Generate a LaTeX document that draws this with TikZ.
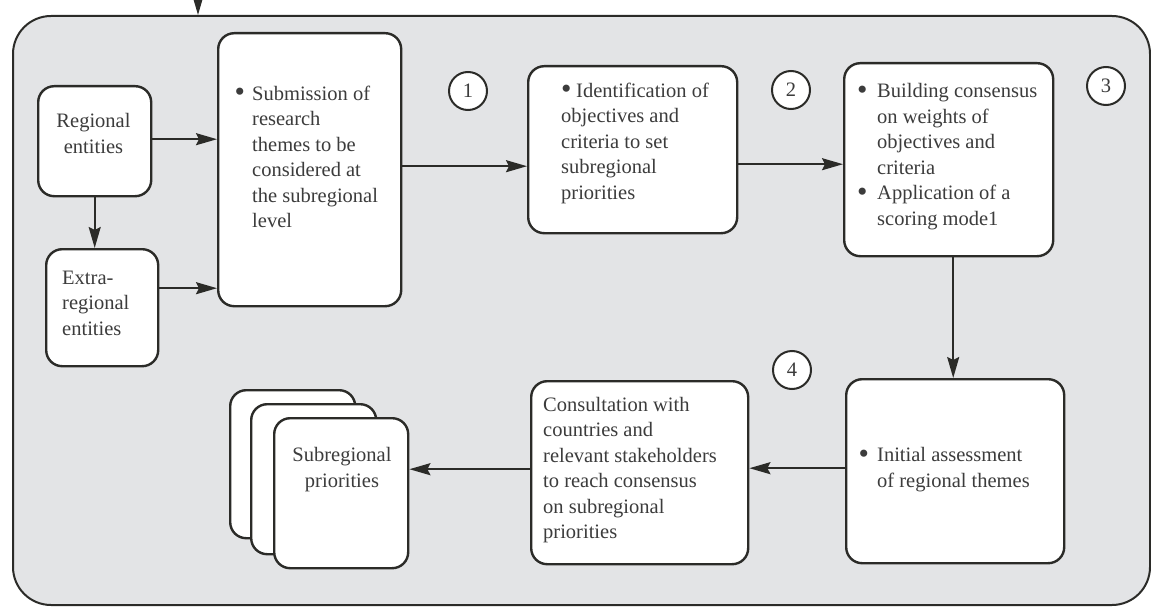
\documentclass[tikz,border=0pt]{standalone}
\usepackage{fontspec}
\setmainfont{Liberation Serif}
\usetikzlibrary{arrows.meta,calc}
\definecolor{bgc}{HTML}{E3E4E6}
\definecolor{linec}{HTML}{2B2B28}
\definecolor{textc}{HTML}{3C3C3C}
\newcommand\bulw[1]{\makebox[#1][l]{\raisebox{-0.09em}{\scalebox{1.45}{\textbullet}}}}
\newcommand\indw[1]{\hspace*{#1}}
\begin{document}
\begin{tikzpicture}[x=1pt,y=-1pt,
  box/.style={draw=linec, line width=2.4pt, fill=white, rounded corners=16pt, inner sep=0pt, anchor=north west},
  txt/.style={font=\fontsize{20.5}{25.5}\selectfont, text=textc, inner sep=0pt, align=left, anchor=north west},
  num/.style={circle, draw=linec, line width=2pt, fill=white, minimum size=38pt, inner sep=0pt, font=\fontsize{20.5}{24}\selectfont, text=textc},
  arr/.style={draw=linec, line width=2pt, -{Stealth[length=21pt,width=12pt,inset=3pt]}}]
\useasboundingbox (0,0) rectangle (1151,607);
\node[draw=linec, line width=2pt, fill=bgc, rounded corners=38pt, minimum width=1137pt, minimum height=589pt, anchor=north west, inner sep=0pt] (outer) at (12,15) {};
% boxes
\node[box, minimum width=113pt, minimum height=110pt] (reg) at (37,85) {};
\node[box, minimum width=112pt, minimum height=117pt] (ext) at (45,248) {};
\node[box, minimum width=183pt, minimum height=273pt] (sub) at (217,32) {};
\node[box, minimum width=209pt, minimum height=167pt] (idf) at (527,65) {};
\node[box, minimum width=209pt, minimum height=193pt] (bld) at (843,62) {};
\node[box, minimum width=218pt, minimum height=184pt] (ini) at (845,378) {};
\node[box, minimum width=217pt, minimum height=183pt] (con) at (530,380) {};
\node[box, minimum width=125pt, minimum height=148pt] (card3) at (229,389) {};
\node[box, minimum width=125pt, minimum height=150pt] (card2) at (250,403) {};
\node[box, minimum width=134pt, minimum height=150pt] (card1) at (273,417) {};
% texts
\node[txt, align=center, anchor=north] (regt) at (93.5,113.5) {Regional\\entities};
\node[txt] (extt) at (62,270.5) {Extra-\\regional\\entities};
\node[txt] (subt) at (234.5,85.5) {\bulw{17.5pt}Submission of\\\indw{17.5pt}research\\\indw{17.5pt}themes to be\\\indw{17.5pt}considered at\\\indw{17.5pt}the subregional\\\indw{17.5pt}level};
\node[txt] (idft) at (561,82.5) {\bulw{15pt}Identification of\\objectives and\\criteria to set\\subregional\\priorities};
\node[txt] (bldt) at (857,83.5) {\bulw{20pt}Building consensus\\\indw{20pt}on weights of\\\indw{20pt}objectives and\\\indw{20pt}criteria\\\bulw{20pt}Application of a\\\indw{20pt}scoring mode1};
\node[txt] (init) at (858.5,447.5) {\bulw{18.5pt}Initial assessment\\\indw{18.5pt}of regional themes};
\node[txt] (cont) at (543,397) {Consultation with\\countries and\\relevant stakeholders\\to reach consensus\\on subregional\\priorities};
\node[txt, align=center, anchor=north] (cardt) at (342,447.5) {Subregional\\priorities};
% numbers
\node[num] (n1) at (468,91) {1};
\node[num] (n2) at (791,90) {2};
\node[num] (n3) at (1106,86) {3};
\node[num] (n4) at (792,370) {4};
% connectors
\coordinate (topin) at (198,0);
\draw[arr] (topin) -- (topin |- outer.north);
\draw[arr] (reg.south) -- (reg.south |- ext.north);
\path ([yshift=2pt]reg.east) coordinate (a1);
\draw[arr] (a1) -- (a1 -| sub.west);
\path ([yshift=19.5pt]ext.east) coordinate (a2);
\draw[arr] (a2) -- (a2 -| sub.west);
\path ([yshift=3.5pt]sub.east) coordinate (a3);
\draw[arr] (a3) -- (a3 -| idf.west);
\path ([yshift=-14.5pt]idf.east) coordinate (a4);
\draw[arr] (a4) -- (a4 -| bld.west);
\path ([xshift=4.5pt]bld.south) coordinate (a5);
\draw[arr] (a5) -- (a5 |- ini.north);
\path ([yshift=3pt]ini.west) coordinate (a6);
\draw[arr] (a6) -- (a6 -| con.east);
\path ([yshift=3.5pt]con.west) coordinate (a7);
\draw[arr] (a7) -- (a7 -| card1.east);
\end{tikzpicture}
\end{document}
